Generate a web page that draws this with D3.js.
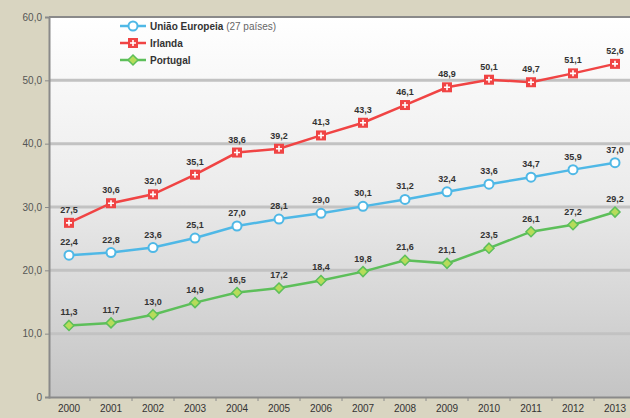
<!DOCTYPE html>
<html>
<head>
<meta charset="utf-8">
<script src="https://cdn.jsdelivr.net/npm/d3@7"></script>
<style>
  body { margin: 0; background: #d9d5c1; }
  svg { display: block; font-family: "Liberation Sans", Arial, sans-serif; }
</style>
</head>
<body>
<div class="chart"></div>
<script>
const years = ['2000','2001','2002','2003','2004','2005','2006','2007','2008','2009','2010','2011','2012','2013'];
const ue = [22.4, 22.8, 23.6, 25.1, 27.0, 28.1, 29.0, 30.1, 31.2, 32.4, 33.6, 34.7, 35.9, 37.0];
const irlanda = [27.5, 30.6, 32.0, 35.1, 38.6, 39.2, 41.3, 43.3, 46.1, 48.9, 50.1, 49.7, 51.1, 52.6];
const portugal = [11.3, 11.7, 13.0, 14.9, 16.5, 17.2, 18.4, 19.8, 21.6, 21.1, 23.5, 26.1, 27.2, 29.2];
const yTicks = [0, 10, 20, 30, 40, 50, 60];
const seriesNames = ['União Europeia', 'Irlanda', 'Portugal'];

const series = [
  {name: seriesNames[0], extra: ' (27 países)', values: ue, color: '#4fb8e6', marker: 'circle'},
  {name: seriesNames[1], extra: '', values: irlanda, color: '#f04444', marker: 'square'},
  {name: seriesNames[2], extra: '', values: portugal, color: '#5dbf5a', marker: 'diamond'}
];

const W = 630, H = 418;
const svg = d3.select('div.chart').append('svg').attr('width', W).attr('height', H);

const x = d3.scaleBand().domain(years).range([48, 636]);
const y = d3.scaleLinear().domain([0, 60]).range([397, 17]);
const fmt = v => v === 0 ? '0' : d3.format('.1f')(v).replace('.', ',');

// background gradient of plot area
const defs = svg.append('defs');
const grad = defs.append('linearGradient').attr('id', 'bg').attr('x1', 0).attr('y1', 0).attr('x2', 0).attr('y2', 1);
grad.append('stop').attr('offset', '0%').attr('stop-color', '#ffffff');
grad.append('stop').attr('offset', '45%').attr('stop-color', '#ececec');
grad.append('stop').attr('offset', '100%').attr('stop-color', '#c4c4c4');

svg.append('rect')
  .attr('x', 49).attr('y', y(60))
  .attr('width', W - 49).attr('height', y(0) - y(60))
  .attr('fill', 'url(#bg)');

// gridlines
svg.append('g').selectAll('line')
  .data(yTicks.filter(d => d > 0 && d < 60))
  .join('line')
  .attr('x1', 49).attr('x2', W)
  .attr('y1', d => y(d)).attr('y2', d => y(d))
  .attr('stroke', '#c2c2c2').attr('stroke-width', 3);

// top border
svg.append('line').attr('x1', 49).attr('x2', W).attr('y1', y(60)).attr('y2', y(60))
  .attr('stroke', '#8a8a8a').attr('stroke-width', 2);

// y axis
const yAxis = svg.append('g').attr('transform', 'translate(49,0)')
  .call(d3.axisLeft(y).tickValues(yTicks).tickFormat(fmt).tickSize(4).tickPadding(3));
yAxis.select('.domain').attr('stroke', '#8a8a8a').attr('stroke-width', 2);
yAxis.selectAll('.tick line').attr('stroke', '#8a8a8a');
yAxis.selectAll('text').attr('fill', '#555').style('font-size', '10px');

// x axis
const xAxis = svg.append('g').attr('transform', `translate(0,${y(0)})`)
  .call(d3.axisBottom(x).tickSize(0).tickPadding(8));
xAxis.select('.domain').attr('stroke', '#8a8a8a').attr('stroke-width', 2);
xAxis.selectAll('text').attr('fill', '#333').style('font-size', '10px');
// ticks between categories
svg.append('g').selectAll('line')
  .data(years.slice(1))
  .join('line')
  .attr('x1', d => x(d)).attr('x2', d => x(d))
  .attr('y1', y(0)).attr('y2', y(0) + 4)
  .attr('stroke', '#8a8a8a');

const line = d3.line().x((d, i) => x(years[i]) + x.bandwidth() / 2).y(d => y(d));

function drawMarker(g, type, color) {
  if (type === 'circle') {
    g.append('circle').attr('r', 4.5).attr('fill', '#fff').attr('stroke', color).attr('stroke-width', 2);
  } else if (type === 'square') {
    g.append('rect').attr('x', -5).attr('y', -5).attr('width', 10).attr('height', 10).attr('fill', color);
    g.append('path').attr('d', 'M-3,0H3M0,-3V3').attr('stroke', '#fff').attr('stroke-width', 1.6);
  } else {
    g.append('path').attr('d', 'M0,-5L5,0L0,5L-5,0Z').attr('fill', '#b6dc5a').attr('stroke', color).attr('stroke-width', 1.5);
  }
}

series.forEach(s => {
  const g = svg.append('g');
  g.append('path').datum(s.values)
    .attr('d', line).attr('fill', 'none')
    .attr('stroke', s.color).attr('stroke-width', 2.5);
  s.values.forEach((v, i) => {
    const m = g.append('g').attr('transform', `translate(${x(years[i]) + x.bandwidth() / 2},${y(v)})`);
    drawMarker(m, s.marker, s.color);
  });
  g.selectAll('text.lbl').data(s.values).join('text')
    .attr('class', 'lbl')
    .attr('x', (d, i) => x(years[i]) + x.bandwidth() / 2)
    .attr('y', d => y(d) - 10)
    .attr('text-anchor', 'middle')
    .attr('fill', '#333').style('font-size', '9px').style('font-weight', 'bold')
    .text(d => fmt(d));
});

// legend
const legend = svg.append('g');
series.forEach((s, i) => {
  const ly = 26 + i * 17;
  const lg = legend.append('g').attr('transform', `translate(0,${ly})`);
  lg.append('line').attr('x1', 120).attr('x2', 146).attr('y1', 0).attr('y2', 0)
    .attr('stroke', s.color).attr('stroke-width', 2.5);
  const m = lg.append('g').attr('transform', 'translate(133,0)');
  drawMarker(m, s.marker, s.color);
  const t = lg.append('text').attr('x', 150).attr('y', 4)
    .attr('fill', '#333').style('font-size', '10px').style('font-weight', 'bold')
    .text(s.name);
  if (s.extra) t.append('tspan').style('font-weight', 'normal').attr('fill', '#666').text(s.extra);
});
</script>
</body>
</html>
